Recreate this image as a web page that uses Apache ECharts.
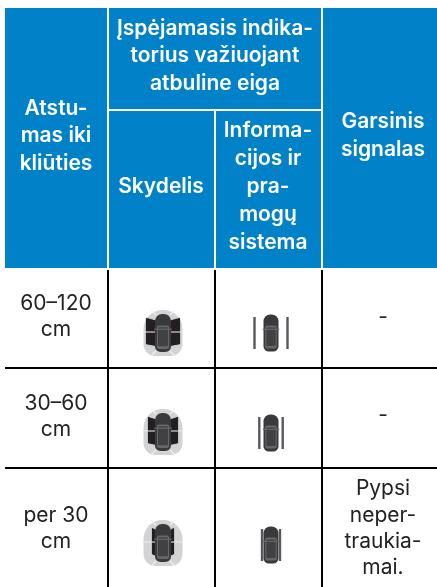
<!DOCTYPE html>
<html>
<head>
<meta charset="utf-8">
<style>
html, body { margin: 0; padding: 0; background: #fff; }
#main { width: 437px; height: 587px; }
</style>
<script src="https://cdn.jsdelivr.net/npm/echarts@6/dist/echarts.min.js"></script>
</head>
<body>
<div id="main"></div>
<script>
// table text
var headDistance = ['Atstu-', 'mas iki', 'kliūties'];
var headIndicator = ['Įspėjamasis indika-', 'torius važiuojant', 'atbuline eiga'];
var headPanel = ['Skydelis'];
var headInfo = ['Informa-', 'cijos ir', 'pra-', 'mogų', 'sistema'];
var headSound = ['Garsinis', 'signalas'];
var distances = [['60–120', 'cm'], ['30–60', 'cm'], ['per 30', 'cm']];
var sounds = [['-'], ['-'], ['Pypsi', 'neper-', 'traukia-', 'mai.']];

var BLUE = '#0181c8', INK = '#222222', FONT = 'Inter', LH = 27.7;
var els = [];

function rect(x, y, w, h, fill, r) {
	els.push({ type: 'rect', shape: { x: x, y: y, width: w, height: h, r: r || 0 }, style: { fill: fill } });
}

function lines(arr, cx, cy, color, weight, size, lh) {
	arr.forEach(function (t, i) {
		els.push({
			type: 'text',
			style: {
				x: cx, y: cy + (i - (arr.length - 1) / 2) * lh,
				text: t, fill: color, align: 'center', verticalAlign: 'middle',
				fontFamily: FONT, fontWeight: weight, fontSize: size
			}
		});
	});
}

function poly(points, fill) {
	els.push({ type: 'polygon', shape: { points: points }, style: { fill: fill, shadowBlur: 1, shadowColor: fill } });
}

function seam(x1, y1, x2, y2, color) {
	els.push({ type: 'line', shape: { x1: x1, y1: y1, x2: x2, y2: y2 }, style: { stroke: color, lineWidth: 1.2 } });
}

function car(cx, cy, w, h) {
	rect(cx - w / 2, cy - h / 2, w, h, '#3a3a3c', [w * 0.45, w * 0.45, w * 0.35, w * 0.35]);
	rect(cx - w * 0.38, cy - h * 0.2, w * 0.76, h * 0.62, '#67676a', 2);
	rect(cx - w * 0.31, cy - h * 0.15, w * 0.62, h * 0.5, '#414143', 1);
	seam(cx - w * 0.55, cy - h * 0.1, cx + w * 0.55, cy - h * 0.1, '#67676a');
}

// panel icon: grey halo, dark warning wings, car on top
function panelIcon(cx, cy, wing) {
	rect(cx - 19.5, cy - 23, 39, 46, '#d2d3d5', [19, 19, 12, 12]);
	seam(cx - 7, cy - 18, cx - 12, cy - 23, '#f0f0f0');
	seam(cx + 7, cy - 18, cx + 12, cy - 23, '#f0f0f0');
	seam(cx - 7, cy + 18, cx - 12, cy + 23, '#f0f0f0');
	seam(cx + 7, cy + 18, cx + 12, cy + 23, '#f0f0f0');
	seam(cx - 19.5, cy - 1, cx + 19.5, cy - 1, '#f0f0f0');
	poly([[cx - 6, cy - 12], [cx - 7 - wing, cy - 15], [cx - 7 - wing, cy + 11], [cx - 6, cy + 13]], '#231f20');
	poly([[cx + 6, cy - 12], [cx + 7 + wing, cy - 15], [cx + 7 + wing, cy + 11], [cx + 6, cy + 13]], '#231f20');
	seam(cx - 7 - wing, cy - 1, cx - 6, cy - 1, '#d2d3d5');
	seam(cx + 6, cy - 1, cx + 7 + wing, cy - 1, '#d2d3d5');
	car(cx, cy, 16, 38);
}

function infoIcon(cx, cy, off, barH) {
	rect(cx - off - 1.2, cy - barH / 2, 2.4, barH, '#58595b');
	rect(cx + off - 1.2, cy - barH / 2, 2.4, barH, '#58595b');
	car(cx, cy, 15, 37);
}

// header blocks
rect(5, 8, 432, 260, BLUE);
rect(107, 8, 2, 260, '#fff');
rect(321, 8, 2, 260, '#fff');
rect(214, 109, 2, 159, '#fff');
rect(107, 109, 216, 2, '#fff');

lines(headDistance, 56, 136, '#fff', 600, 21, LH);
lines(headIndicator, 215, 56, '#fff', 600, 21, LH);
lines(headPanel, 161, 186.5, '#fff', 600, 21, LH);
lines(headInfo, 268, 187, '#fff', 600, 21, 28);
lines(headSound, 383, 135.5, '#fff', 600, 21, LH);

// body rules
rect(5, 367, 432, 2, '#000');
rect(5, 467, 432, 2, '#000');
[107, 214, 321].forEach(function (x) {
	rect(x, 270, 2, 317, '#000');
});

// body text
var distY = [317, 416.5, 528.5];
var soundY = [317.5, 415.5, 528.5];
distances.forEach(function (d, i) {
	lines(d, 56, distY[i], INK, 400, 21, 26);
});
sounds.forEach(function (s, i) {
	lines(s, 383, soundY[i], INK, 400, 21, 26.4);
});

// icons
panelIcon(163, 333, 10);
panelIcon(163, 432, 8);
panelIcon(163, 543, 4);
infoIcon(271, 333, 16.5, 32);
infoIcon(271, 433, 11.7, 32);
infoIcon(271, 545, 9, 32);

var chart = echarts.init(document.getElementById('main'));
chart.setOption({
	backgroundColor: '#fff',
	animation: false,
	graphic: { elements: els }
});
</script>
</body>
</html>
